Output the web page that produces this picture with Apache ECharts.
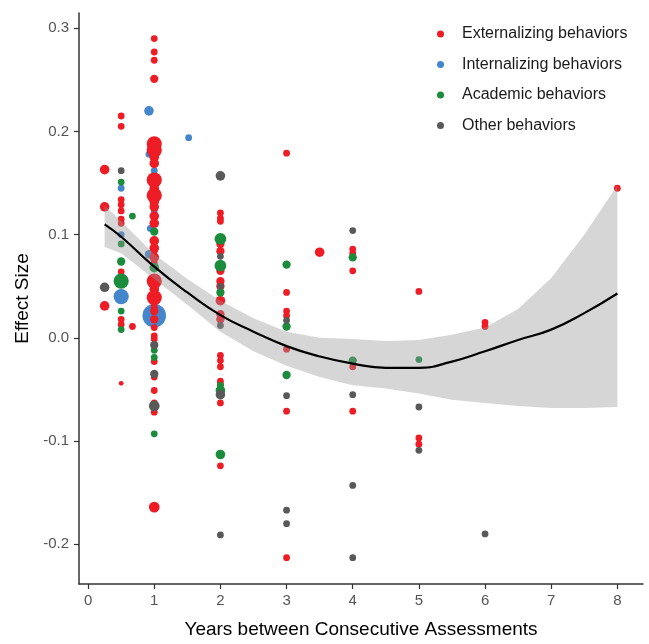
<!DOCTYPE html>
<html>
<head>
<meta charset="utf-8">
<script src="https://cdn.jsdelivr.net/npm/echarts@6/dist/echarts.min.js"></script>
<style>
html,body{margin:0;padding:0;background:#fff;}
#chart{width:649px;height:644px;}
</style>
</head>
<body>
<div id="chart"></div>
<script>
// ---- data: [years, effect size, weight] ----
const externalizing = [
  [0.25,0.163,4],[0.25,0.127,4],[0.25,0.031,4],
  [0.5,0.215,2],[0.5,0.205,2],[0.5,0.134,2],[0.5,0.129,2],[0.5,0.123,2],[0.5,0.115,2],[0.5,0.111,2],
  [0.5,0.064,2],[0.5,0.018,2],[0.5,0.013,2],[0.5,-0.044,1],[0.67,0.011,2],
  [1,0.290,2],[1,0.277,2],[1,0.269,2],[1,0.251,3],[1,0.188,10],[1,0.182,10],[1,0.175,4],[1,0.169,4],
  [1,0.153,10],[1,0.145,4],[1,0.138,10],[1,0.132,4],[1,0.127,4],[1,0.118,4],[1,0.111,4],[1,0.094,4],
  [1,0.087,4],[1,0.084,2],[1,0.078,4],[1,0.073,2],[1,0.055,10],[1,0.047,4],[1,0.039,10],[1,0.030,2],
  [1,0.026,3],[1,0.018,3],[1,0.010,2],[1,0.002,2],[1,-0.001,2],[1,-0.023,2],[1,-0.038,2],[1,-0.051,2],
  [1,-0.063,2],[1,-0.072,2],[1,-0.164,5],
  [2,0.121,2],[2,0.116,2],[2,0.113,2],[2,0.091,3],[2,0.084,3],[2,0.065,3],[2,0.055,3],[2,0.050,3],
  [2,0.044,2],[2,0.036,4],[2,0.023,3],[2,0.018,3],[2,-0.017,2],[2,-0.022,2],[2,-0.028,2],[2,-0.042,2],
  [2,-0.045,2],[2,-0.063,2],[2,-0.124,2],
  [3,0.179,2],[3,0.044,2],[3,0.026,2],[3,0.0215,2],[3,-0.011,2],[3,-0.071,2],[3,-0.213,2],
  [3.5,0.083,4],
  [4,0.086,2],[4,0.082,2],[4,0.065,2],[4,-0.028,2],[4,-0.071,2],
  [5,0.045,2],[5,-0.097,2],[5,-0.103,2],
  [6,0.015,2],[6,0.011,2],
  [8,0.145,2]
];
const internalizing = [
  [0.5,0.145,2],[0.5,0.100,2],[0.5,0.040,10],
  [0.92,0.220,4],[0.92,0.178,2],[1,0.162,2],[1,0.123,2],[0.94,0.106,2],[1,0.095,2],[0.92,0.081,3],
  [1,0.0215,24],[1.52,0.194,2]
];
const academic = [
  [0.5,0.151,2],[0.5,0.091,2],[0.5,0.074,3],[0.5,0.055,10],[0.5,0.026,2],[0.5,0.008,2],[0.67,0.118,2],
  [1,0.103,3],[1,0.068,4],[1,-0.012,2],[1,-0.019,2],[1,-0.093,2],
  [2,0.096,6],[2,0.070,6],[2,0.044,3],[2,-0.046,2],[2,-0.051,4],[2,-0.113,4],
  [3,0.071,3],[3,0.011,3],[3,-0.036,3],
  [4,0.078,3],[4,-0.022,3],
  [5,-0.021,2]
];
const other = [
  [0.25,0.049,4],[0.5,0.162,2],
  [1,-0.007,3],[1,-0.035,3],[1,-0.066,5],
  [2,0.157,4],[2,0.079,2],[2,0.050,2],[2,0.012,2],[2,-0.055,4],[2,-0.191,2],
  [3,0.017,2],[3,-0.056,2],[3,-0.167,2],[3,-0.180,2],
  [4,0.104,2],[4,-0.055,2],[4,-0.143,2],[4,-0.213,2],
  [5,-0.067,2],[5,-0.109,2],
  [6,-0.190,2]
];
// fitted curve and confidence band
const fitX     = [0.25, 0.5, 1, 1.5, 2, 2.5, 3, 3.5, 4, 4.5, 5, 5.5, 6, 6.5, 7, 7.5, 8];
const fitY     = [0.110, 0.098, 0.069, 0.044, 0.022, 0.006, -0.008, -0.018, -0.025, -0.029, -0.029, -0.023, -0.013, -0.002, 0.008, 0.024, 0.043];
const fitUpper = [0.128, 0.113, 0.081, 0.057, 0.036, 0.019, 0.006, 0.000, -0.001, -0.003, -0.002, 0.003, 0.010, 0.028, 0.058, 0.100, 0.148];
const fitLower = [0.088, 0.082, 0.057, 0.032, 0.006, -0.013, -0.027, -0.038, -0.046, -0.049, -0.054, -0.060, -0.063, -0.066, -0.068, -0.068, -0.067];
const xTicks = [0, 1, 2, 3, 4, 5, 6, 7, 8];
const yTicks = [-0.2, -0.1, 0.0, 0.1, 0.2, 0.3];
const seriesNames = ['Externalizing behaviors', 'Internalizing behaviors', 'Academic behaviors', 'Other behaviors'];

const colors = {
  'Externalizing behaviors': '#EE1C25',
  'Internalizing behaviors': '#4386CC',
  'Academic behaviors': '#1A8C3C',
  'Other behaviors': '#595959'
};
const FONT = 'Liberation Sans, Arial, sans-serif';
const sizeFn = d => 4.8 * Math.sqrt(d[2]);

function scatter(name, data, z) {
  return {
    name, type: 'scatter', data, z,
    symbol: 'circle',
    symbolSize: sizeFn,
    itemStyle: { color: colors[name], opacity: 1 },
    emphasis: { disabled: true }
  };
}

const chart = echarts.init(document.getElementById('chart'), null, { renderer: 'canvas' });
chart.setOption({
  animation: false,
  backgroundColor: '#ffffff',
  grid: { left: 79, right: 6, top: 13, bottom: 55, containLabel: false },
  legend: {
    data: seriesNames.map(n => ({ name: n, icon: 'circle' })),
    orient: 'vertical',
    left: 432, top: 20,
    itemWidth: 7, itemHeight: 7, itemGap: 12.5,
    textStyle: { fontFamily: FONT, fontSize: 16, color: '#1a1a1a', lineHeight: 18, padding: [0, 0, 0, 13] }
  },
  xAxis: {
    type: 'value', min: -0.1375, max: 8.3875,
    name: 'Years between Consecutive Assessments',
    nameLocation: 'middle', nameGap: 36,
    nameTextStyle: { fontFamily: FONT, fontSize: 19, color: '#000' },
    axisLine: { show: true, onZero: false, lineStyle: { color: '#333', width: 1.5 } },
    axisTick: { show: true, length: 5, lineStyle: { color: '#333', width: 1.2 }, customValues: xTicks },
    axisLabel: { fontFamily: FONT, fontSize: 15, color: '#555', margin: 9, customValues: xTicks, formatter: v => String(v) },
    splitLine: { show: false }
  },
  yAxis: {
    type: 'value', min: -0.2385, max: 0.3148,
    name: 'Effect Size',
    nameLocation: 'middle', nameGap: 44,
    nameTextStyle: { fontFamily: FONT, fontSize: 19, color: '#000' },
    axisLine: { show: true, onZero: false, lineStyle: { color: '#333', width: 1.5 } },
    axisTick: { show: true, length: 5, lineStyle: { color: '#333', width: 1.2 }, customValues: yTicks },
    axisLabel: { fontFamily: FONT, fontSize: 15, color: '#555', margin: 10, customValues: yTicks, formatter: v => v.toFixed(1) },
    splitLine: { show: false }
  },
  series: [
    scatter('Internalizing behaviors', internalizing, 2),
    scatter('Externalizing behaviors', externalizing, 2),
    scatter('Academic behaviors', academic, 2),
    scatter('Other behaviors', other, 2),
    {
      name: 'ciBand', type: 'custom', z: 3, silent: true,
      data: [[fitX[0], fitY[0]]],
      renderItem: (params, api) => {
        const up = fitX.map((x, i) => api.coord([x, fitUpper[i]]));
        const lo = fitX.map((x, i) => api.coord([x, fitLower[i]])).reverse();
        return {
          type: 'polygon',
          shape: { points: up.concat(lo) },
          style: { fill: 'rgba(153,153,153,0.4)', stroke: null }
        };
      }
    },
    {
      name: 'fit', type: 'line', z: 4, smooth: true, symbol: 'none', silent: true,
      data: fitX.map((x, i) => [x, fitY[i]]),
      lineStyle: { color: '#000', width: 2.2 }
    }
  ]
});
</script>
</body>
</html>
